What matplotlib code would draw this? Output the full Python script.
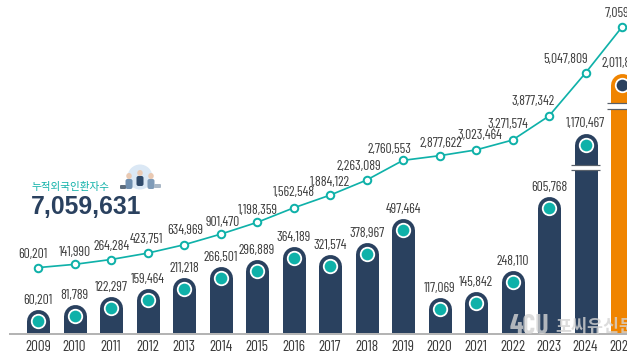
import matplotlib
matplotlib.use("Agg")
import matplotlib.pyplot as plt
import matplotlib.font_manager as fm
import numpy as np
from matplotlib.patches import Circle, Ellipse, FancyBboxPatch
from matplotlib.transforms import ScaledTranslation

years = list(range(2009, 2026))
yearly = [60201, 81789, 122297, 159464, 211218, 266501, 296889, 364189, 321574,
          378967, 497464, 117069, 145842, 248110, 605768, 1170467, 2011822]
cumulative = [60201, 141990, 264284, 423751, 634969, 901470, 1198359, 1562548, 1884122,
              2263089, 2760553, 2877622, 3023464, 3271574, 3877342, 5047809, 7059631]
total_label = "7,059,631"
title_label = "누적외국인환자수"

# the picture's axes are not linear, these are the breaks read off it
bar_scale_v = [-60386, 0, 605768, 1170467, 2011822, 4000000]
bar_scale_h = [0, 12.5, 138, 201, 261, 334]
line_scale_v = [-1608000, 0, 3877342, 5047809, 7059631, 8100000]
line_scale_h = [0, 64, 218, 261, 307, 334]

# label offsets from the line points, in pixels
line_dx = [-5, 0, 1, -1, 1, 2, 1, 0, 0, -8, -14, 1, 4, -5, -16, -20, 4]
line_dy = [13, 12, 13, 14, 14, 12, 12, 15, 13, 14, 11, 12, 14, 16, 14, 13, 14]

NAVY = "#2a415f"
TEAL = "#0fb1a9"
ORANGE = "#f08400"
GREY = "#3a3a3a"
PX = 0.72  # points per pixel at dpi 100

names = {f.name for f in fm.fontManager.ttflist}
NARROW = "Barlow Condensed" if "Barlow Condensed" in names else "Liberation Sans"
NUM_SIZE = 9.9 if NARROW == "Barlow Condensed" else 8.0
YEAR_SIZE = 11.0 if NARROW == "Barlow Condensed" else 9.0
KR = "Noto Sans CJK KR"


def make_scale(xs, ys):
    return (lambda v: np.interp(v, xs, ys), lambda h: np.interp(h, ys, xs))


fig = plt.figure(figsize=(6.27, 3.55), dpi=100)
ax = fig.add_axes([0, 21 / 355, 1, 334 / 355])
left = 2009 - 38 / 36.5
ax.set_xlim(left, left + 627 / 36.5)
ax.set_yscale("function", functions=make_scale(bar_scale_v, bar_scale_h))
ax.set_ylim(bar_scale_v[0], bar_scale_v[-1])
ax.set_yticks([])
ax.minorticks_off()
for s in ["top", "left", "right"]:
    ax.spines[s].set_visible(False)
ax.spines["bottom"].set_color("#b4b4b4")
ax.spines["bottom"].set_linewidth(2 * PX)
ax.spines["bottom"].set_bounds(left + 10 / 36.5, left + 627 / 36.5)
ax.set_xticks(years)
ax.set_xticklabels(years, fontfamily=NARROW, fontsize=YEAR_SIZE, color=GREY)
ax.tick_params(axis="x", length=0, pad=4)
ax.patch.set_visible(False)

bar_w = 23
shift_r = ScaledTranslation(0, -bar_w / 2 * PX / 72, fig.dpi_scale_trans)
for i, (yr, v) in enumerate(zip(years, yearly)):
    last = yr == 2025
    col = ORANGE if last else NAVY
    ax.plot([yr, yr], [bar_scale_v[0], v], color=col, lw=bar_w * PX,
            solid_capstyle="round", transform=ax.transData + shift_r, zorder=2)
    ax.plot([yr], [v], "o", ms=13.5 * PX, mfc=NAVY if last else TEAL, mec="white",
            mew=1.8 * PX, transform=ax.transData + shift_r, zorder=3)
    ax.annotate(f"{v:,}", (yr, v), xytext=(0, 9 * PX), textcoords="offset points",
                ha="center", va="center", fontfamily=NARROW, fontsize=NUM_SIZE, color=GREY,
                annotation_clip=False, zorder=4)

# axis break marks on the two tall bars
for yr, v, d1, d2 in [(2024, yearly[15], 32, 37), (2025, yearly[16], 30, 36)]:
    for d, c, w in [((d1 + d2) / 2, "white", d2 - d1), (d1, "#59616b", 1.2), (d2, "#59616b", 1.2)]:
        tr = ax.transData + ScaledTranslation(0, -d * PX / 72, fig.dpi_scale_trans)
        ax.plot([yr - 0.4, yr + 0.4], [v, v], color=c, lw=w * PX, transform=tr,
                solid_capstyle="butt", zorder=3)

ax2 = ax.twinx()
ax2.set_yscale("function", functions=make_scale(line_scale_v, line_scale_h))
ax2.set_ylim(line_scale_v[0], line_scale_v[-1])
ax2.set_yticks([])
ax2.minorticks_off()
ax2.axis("off")
ax2.plot(years, cumulative, color=TEAL, lw=1.7 * PX, marker="o", ms=7.5 * PX, mfc="white",
         mec=TEAL, mew=2 * PX)
for yr, v, dx, dy in zip(years, cumulative, line_dx, line_dy):
    ax2.annotate(f"{v:,}", (yr, v), xytext=(dx * PX, dy * PX), textcoords="offset points",
                 ha="center", va="center", fontfamily=NARROW, fontsize=NUM_SIZE, color=GREY,
                 annotation_clip=False)

# title block, people icon and watermark, placed in pixel coordinates
over = fig.add_axes([0, 0, 1, 1])
over.set_xlim(0, 627)
over.set_ylim(355, 0)
over.axis("off")
over.text(71, 187, title_label, color=TEAL, fontfamily=KR, fontsize=7.6, fontweight="medium",
          ha="center", va="center")
over.text(31, 207, total_label, color=NAVY, fontfamily="Liberation Sans", fontweight="bold",
          fontsize=17.8, ha="left", va="center")

over.add_patch(Circle((140, 177), 12.5, color="#dbe8f5", lw=0))
for cx, cy, body in [(129, 176, "#6f8fb0"), (140, 173, "#2f4a6b"), (151, 176, "#7f9bb8")]:
    over.add_patch(FancyBboxPatch((cx - 3.5, cy + 3), 7, 10, boxstyle="round,pad=0,rounding_size=2",
                                  color=body, lw=0))
    over.add_patch(Ellipse((cx, cy), 5.5, 6, color="#e9c9b3", lw=0))
over.add_patch(FancyBboxPatch((120, 185), 6, 4, boxstyle="round,pad=0,rounding_size=1",
                              color="#5d6d7e", lw=0))
over.add_patch(FancyBboxPatch((154, 184), 7, 4, boxstyle="round,pad=0,rounding_size=1",
                              color="#a9b7c6", lw=0))

over.text(529, 326, "4CU", color="#d4d4d4", alpha=0.8, fontfamily=NARROW, fontweight="bold",
          fontsize=20, ha="center", va="center")
over.text(555, 327, "포씨유신문", color="#d4d4d4", alpha=0.8, fontfamily=KR, fontweight="bold",
          fontsize=12.5, ha="left", va="center")

fig.savefig("out.png", dpi=100, facecolor="white")
